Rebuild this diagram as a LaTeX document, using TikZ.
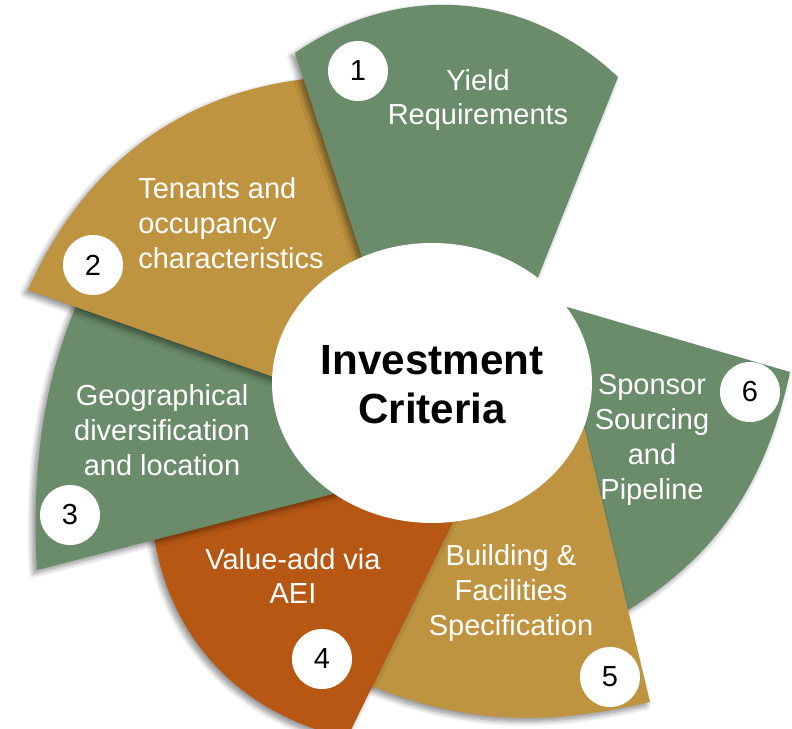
\documentclass[tikz,border=0pt]{standalone}
\usepackage{fontspec}
\setmainfont{Liberation Sans}
\usepackage{xcolor}
\usetikzlibrary{shadows.blur}

\definecolor{sagegreen}{RGB}{107,140,106}
\definecolor{ochre}{RGB}{191,148,64}
\definecolor{rust}{RGB}{183,87,20}

\begin{document}
\begin{tikzpicture}[
    sector/.style={blur shadow={shadow xshift=-2pt, shadow yshift=-2pt, shadow blur radius=3pt, shadow blur steps=8, shadow opacity=45}},
    numdot/.style={circle, fill=white, minimum size=1.2cm, inner sep=0pt, font=\fontsize{16.5}{19.8}\selectfont},
    petaltext/.style={text=white, inner sep=0pt, font=\fontsize{16.5}{19.8}\selectfont}
]
    \useasboundingbox (0,0) rectangle (15.84,14.58);

    % Petals, drawn back to front
    \fill[sector, sagegreen] (11.34,8.44) -- (15.80,7.14) to[bend left=25] (11.90,2.00) -- (10.80,6.18) -- cycle; % 6
    \fill[sector, ochre] (11.46,6.98) -- (13.00,0.54) to[bend left=19] (6.64,1.20) -- (8.80,4.58) -- cycle; % 5
    \fill[sector, rust] (9.32,4.68) -- (6.94,-0.18) to[bend left=37] (3.02,4.42) -- (7.20,5.18) -- cycle; % 4
    \fill[sector, sagegreen] (0.74,3.18) to[bend left=26] (4.74,12.68) -- (6.80,6.58) -- (7.20,4.84) -- cycle; % 3
    \fill[sector, ochre] (0.56,8.78) to[bend left=33] (7.18,13.06) -- (8.40,6.98) -- (6.60,6.64) -- cycle; % 2
    \fill[sector, sagegreen] (8.04,6.98) -- (5.90,13.52) to[bend left=39] (12.36,13.04) -- (9.94,6.98) -- cycle; % 1

    % Hub
    \fill[white] (8.64,6.92) ellipse [x radius=3.2, y radius=2.8];
    \node[align=center, inner sep=0pt, font=\bfseries\fontsize{24}{27.9}\selectfont] (hub) at (8.64,6.88) {Investment\\Criteria};

    % Petal texts
    \node[petaltext, align=center] (yield) at (9.56,12.58) {Yield\\Requirements};
    \node[petaltext, align=left, anchor=west] (tenants) at (2.76,10.12) {Tenants and\\occupancy\\characteristics};
    \node[petaltext, align=center] (geo) at (3.24,5.98) {Geographical\\diversification\\and location};
    \node[petaltext, align=center] (aei) at (5.86,3.06) {Value-add via\\AEI};
    \node[petaltext, align=center] (building) at (10.22,2.72) {Building \&\\Facilities\\Specification};
    \node[petaltext, align=center] (sponsor) at (13.04,5.78) {Sponsor\\Sourcing\\and\\Pipeline};

    % Numbers
    \node[numdot] (n1) at (7.16,13.16) {1};
    \node[numdot] (n2) at (1.86,9.28) {2};
    \node[numdot] (n3) at (1.40,4.28) {3};
    \node[numdot] (n4) at (6.44,1.40) {4};
    \node[numdot] (n5) at (12.20,1.04) {5};
    \node[numdot] (n6) at (15.00,6.74) {6};
\end{tikzpicture}
\end{document}
